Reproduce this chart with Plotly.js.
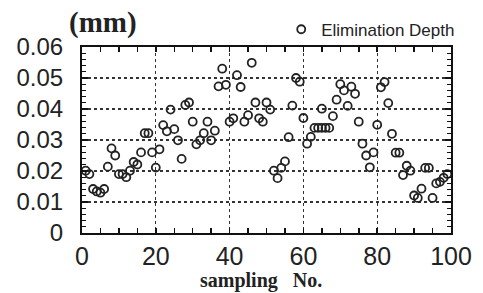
<!DOCTYPE html>
<html>
<head>
<meta charset="utf-8">
<script src="https://cdn.plot.ly/plotly-3.0.1.min.js"></script>
<style>html,body{margin:0;padding:0;background:#fff;}#chart{width:483px;height:293px;}</style>
</head>
<body>
<div id="chart"></div>
<script>
// Sampling number and elimination depth (mm)
const samplingNo = [1,2,3,4,5,6,7,8,9,10,11,12,13,14,15,16,17,18,19,20,
  21,22,23,24,25,26,27,28,29,30,31,32,33,34,35,36,37,38,39,40,
  41,42,43,44,45,46,47,48,49,50,51,52,53,54,55,56,57,58,59,60,
  61,62,63,64,65,65,66,67,68,69,70,71,72,73,74,75,76,77,78,79,80,
  81,82,83,84,85,86,87,88,89,90,91,92,93,94,95,96,97,98,99];
const depth = [0.0201,0.0190,0.0142,0.0134,0.0130,0.0142,0.0214,0.0273,0.0250,0.0190,
  0.0190,0.0180,0.0201,0.0229,0.0221,0.0260,0.0322,0.0322,0.0260,0.0211,
  0.0270,0.0348,0.0328,0.0398,0.0335,0.0299,0.0239,0.0413,0.0421,0.0359,
  0.0286,0.0299,0.0322,0.0359,0.0299,0.0330,0.0473,0.0530,0.0478,0.0359,
  0.0370,0.0509,0.0471,0.0359,0.0380,0.0549,0.0421,0.0370,0.0359,0.0421,
  0.0398,0.0201,0.0177,0.0210,0.0231,0.0309,0.0411,0.0500,0.0488,0.0371,
  0.0288,0.0310,0.0339,0.0339,0.0401,0.0339,0.0339,0.0339,0.0377,0.0430,
  0.0480,0.0460,0.0410,0.0472,0.0449,0.0359,0.0288,0.0250,0.0212,0.0260,0.0349,
  0.0470,0.0487,0.0419,0.0320,0.0259,0.0259,0.0187,0.0217,0.0201,0.0121,
  0.0113,0.0143,0.0210,0.0210,0.0113,0.0160,0.0165,0.0178,0.0190];
const seriesName = 'Elimination Depth';
const xTitle = 'sampling&nbsp;&nbsp; No.';
const yUnit = '(mm)';

const trace = {
  x: samplingNo, y: depth, type: 'scatter', mode: 'markers', name: seriesName,
  marker: {symbol: 'circle-open', size: 8, color: '#222', line: {width: 1.8, color: '#222'}}
};

const sans = 'Liberation Sans, Arial, sans-serif';
const serif = 'Liberation Serif, Times New Roman, serif';

const layout = {
  width: 483, height: 293,
  margin: {l: 82, r: 32, t: 40, b: 60},
  paper_bgcolor: '#fff', plot_bgcolor: '#fff',
  font: {family: sans, color: '#222'},
  showlegend: true,
  legend: {x: 1.025, y: 1.093, xanchor: 'right', yanchor: 'middle', bgcolor: 'rgba(0,0,0,0)',
    font: {size: 17, family: sans, color: '#222'}, itemwidth: 30, borderwidth: 0},
  xaxis: {
    range: [0, 100], dtick: 20, tick0: 0,
    showline: true, linecolor: '#111', linewidth: 2, mirror: 'allticks',
    ticks: 'inside', ticklen: 5, tickwidth: 1.5, tickcolor: '#111',
    showgrid: true, gridcolor: '#333', griddash: 'dot', gridwidth: 1.3,
    zeroline: false,
    minor: {dtick: 5, ticks: 'inside', ticklen: 5, tickwidth: 1.5, tickcolor: '#111', showgrid: false},
    tickfont: {size: 25, family: sans, color: '#222'}
  },
  yaxis: {
    range: [0, 0.06], dtick: 0.01, tick0: 0, tickformat: '.2~f',
    showline: true, linecolor: '#111', linewidth: 2, mirror: 'allticks',
    ticks: 'inside', ticklen: 6, tickwidth: 1.5, tickcolor: '#111',
    showgrid: true, gridcolor: '#333', griddash: 'dot', gridwidth: 1.3,
    zeroline: false, ticklabelstandoff: 12,
    minor: {dtick: 0.002, ticks: 'inside', ticklen: 4, tickwidth: 1.2, tickcolor: '#111', showgrid: false},
    tickfont: {size: 24, family: sans, color: '#222'}
  },
  annotations: [{
    text: yUnit, xref: 'paper', yref: 'paper', x: -0.042, y: 1.13, xanchor: 'left', yanchor: 'middle',
    showarrow: false, font: {size: 29, family: serif, weight: 'bold', color: '#222'}
  }, {
    text: xTitle, xref: 'paper', yref: 'paper', x: 0.485, y: -0.254, xanchor: 'center', yanchor: 'middle',
    showarrow: false, font: {size: 20, family: serif, weight: 'bold', color: '#222'}
  }]
};

Plotly.newPlot('chart', [trace], layout, {displayModeBar: false, staticPlot: true});
</script>
</body>
</html>
